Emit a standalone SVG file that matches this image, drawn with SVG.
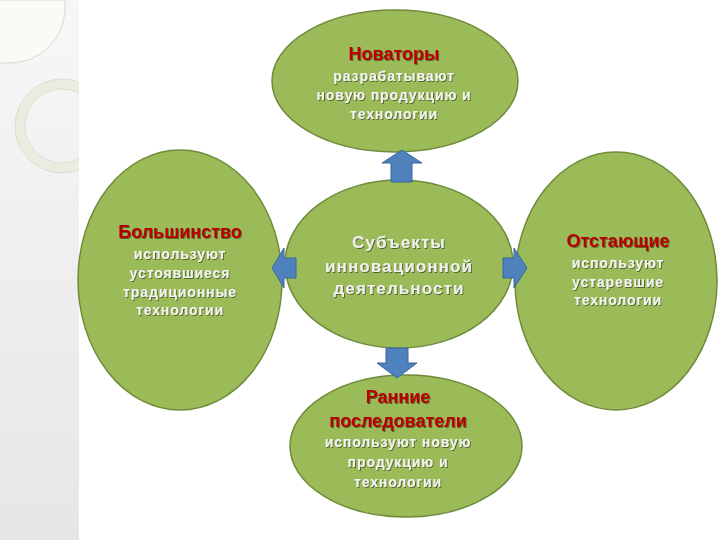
<svg xmlns="http://www.w3.org/2000/svg" width="720" height="540" viewBox="0 0 720 540">
<defs>
<linearGradient id="strip" x1="0" y1="0" x2="0" y2="1">
<stop offset="0" stop-color="#f7f7f7"/>
<stop offset="1" stop-color="#e6e6e6"/>
</linearGradient>
<clipPath id="stripClip"><rect x="0" y="0" width="79" height="540"/></clipPath>
<filter id="sh" x="-10%" y="-30%" width="120%" height="160%">
<feDropShadow dx="1" dy="1" stdDeviation="0.6" flood-color="#000" flood-opacity="0.45"/>
</filter>
<style>
.node{fill:#9bbb59;stroke:#6f8a3a;stroke-width:1.5}
.arrow{fill:#4f81bd;stroke:#3b679c;stroke-width:1}
.title{font-family:"Liberation Sans",Arial,sans-serif;font-weight:bold;font-size:18px;fill:#b80000;text-anchor:middle;filter:url(#sh)}
.body{font-family:"Liberation Sans",Arial,sans-serif;font-weight:bold;font-size:14px;fill:#f4f4f4;text-anchor:middle;letter-spacing:0.9px;filter:url(#sh)}
.center{font-family:"Liberation Sans",Arial,sans-serif;font-weight:bold;font-size:17px;fill:#f0f0f0;text-anchor:middle;letter-spacing:1.1px;filter:url(#sh)}
</style>
</defs>
<rect x="0" y="0" width="720" height="540" fill="#ffffff"/>
<g id="background">
<rect x="0" y="0" width="79" height="540" fill="url(#strip)"/>
<path d="M0,0 H65 V10 A55,55 0 0 1 10,63 H0" fill="#fafaf6" stroke="#d8d8cf" stroke-width="1"/>
<g clip-path="url(#stripClip)">
<circle cx="62" cy="126" r="42" fill="none" stroke="#ecebdf" stroke-width="10"/>
<circle cx="62" cy="126" r="47" fill="none" stroke="#d9d8ca" stroke-width="0.8"/>
<circle cx="62" cy="126" r="37" fill="none" stroke="#d9d8ca" stroke-width="0.8"/>
</g>
</g>
<g id="node-center">
<ellipse class="node" cx="399" cy="264" rx="114" ry="84"/>
<text class="center" x="399" y="248">Субъекты</text>
<text class="center" x="399" y="272">инновационной</text>
<text class="center" x="399" y="294">деятельности</text>
</g>
<g id="node-novatory">
<ellipse class="node" cx="395" cy="81" rx="123" ry="71"/>
<text class="title" x="394" y="60">Новаторы</text>
<text class="body" x="394" y="81">разрабатывают</text>
<text class="body" x="394" y="100">новую продукцию и</text>
<text class="body" x="394" y="119">технологии</text>
</g>
<g id="node-bolshinstvo">
<ellipse class="node" cx="180" cy="280" rx="102" ry="130"/>
<text class="title" x="180" y="238">Большинство</text>
<text class="body" x="180" y="259">используют</text>
<text class="body" x="180" y="278">устоявшиеся</text>
<text class="body" x="180" y="297">традиционные</text>
<text class="body" x="180" y="315">технологии</text>
</g>
<g id="node-otstayushchie">
<ellipse class="node" cx="616" cy="281" rx="101" ry="129"/>
<text class="title" x="618" y="247">Отстающие</text>
<text class="body" x="618" y="268">используют</text>
<text class="body" x="618" y="287">устаревшие</text>
<text class="body" x="618" y="305">технологии</text>
</g>
<g id="node-rannie">
<ellipse class="node" cx="406" cy="446" rx="116" ry="71"/>
<text class="title" x="398" y="403">Ранние</text>
<text class="title" x="398" y="427">последователи</text>
<text class="body" x="398" y="447">используют новую</text>
<text class="body" x="398" y="467">продукцию и</text>
<text class="body" x="398" y="487">технологии</text>
</g>
<g id="connectors">
<path class="arrow" d="M402,150 L422,163 L412,163 L412,182 L391,182 L391,163 L382,163 Z"/>
<path class="arrow" d="M272,268 L284,248 L284,258 L296,258 L296,278 L284,278 L284,288 Z"/>
<path class="arrow" d="M527,268 L514,248 L514,258 L503,258 L503,278 L514,278 L514,288 Z"/>
<path class="arrow" d="M397,378 L417,363 L408,363 L408,348 L386,348 L386,363 L377,363 Z"/>
</g>
</svg>
